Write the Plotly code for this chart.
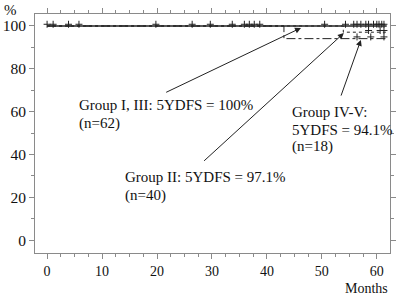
import plotly.graph_objects as go

# Step curves (months, DFS %)
g13_times = [0, 61.8]
g13_surv = [100, 100]
g2_times = [0, 53.9, 61.8]
g2_surv = [100, 97.1, 97.1]
g45_times = [0, 43.1, 61.8]
g45_surv = [100, 94.1, 94.1]

# Censor marks
cens100_x = [0, 1.1, 3.9, 5.8, 19.8, 26.4, 29.7, 33.7, 35.9, 36.8, 37.7, 38.7,
             50.5, 54.3, 55.8, 56.4, 57.1, 58.0, 58.5, 59.4, 60.0, 60.4, 60.9, 61.3]
cens971_x = [58.5, 60.6, 61.3]
cens941_x = [56.4, 58.9, 61.3]

x_ticks = [0, 10, 20, 30, 40, 50, 60]
y_ticks = [0, 20, 40, 60, 80, 100]

LINE = "#222222"
AX = "#8a8a8a"
FONT = "Times New Roman"

fig = go.Figure()
fig.add_trace(go.Scatter(x=g45_times, y=g45_surv, mode="lines", line_shape="hv",
                         line=dict(color=LINE, width=1, dash="dashdot")))
fig.add_trace(go.Scatter(x=g2_times, y=g2_surv, mode="lines", line_shape="hv",
                         line=dict(color=LINE, width=1, dash="dot")))
fig.add_trace(go.Scatter(x=g13_times, y=g13_surv, mode="lines", line_shape="hv",
                         line=dict(color=LINE, width=1.5)))
mk = dict(symbol="cross-thin", size=5, line=dict(color=LINE, width=1))
fig.add_trace(go.Scatter(x=cens100_x, y=[100.8] * len(cens100_x), mode="markers", marker=mk))
fig.add_trace(go.Scatter(x=cens971_x, y=[97.9] * len(cens971_x), mode="markers", marker=mk))
fig.add_trace(go.Scatter(x=cens941_x, y=[94.9] * len(cens941_x), mode="markers", marker=mk))

# Arrows
arrows = [(46.2, 99.1, 21.4, 68.7), (54.0, 96.7, 28.3, 36.4), (57.1, 93.5, 53.4, 66.8)]
for tx, ty, sx, sy in arrows:
    fig.add_annotation(x=tx, y=ty, ax=sx, ay=sy, xref="x", yref="y", axref="x", ayref="y",
                       showarrow=True, arrowhead=2, arrowsize=1.2, arrowwidth=1,
                       arrowcolor=LINE, text="")

labels = [
    (5.4, 63.1, "Group I, III: 5YDFS = 100%"),
    (5.4, 54.7, "(n=62)"),
    (13.8, 29.4, "Group II: 5YDFS = 97.1%"),
    (13.8, 21.0, "(n=40)"),
    (44.2, 59.8, "Group IV-V:"),
    (44.2, 51.4, "5YDFS = 94.1%"),
    (44.2, 43.5, "(n=18)"),
]
for x, y, t in labels:
    fig.add_annotation(x=x, y=y, xref="x", yref="y", text=t, showarrow=False,
                       xanchor="left", yanchor="middle", font=dict(size=15, color="#111"))

fig.add_annotation(x=-0.07, y=1.015, xref="paper", yref="paper", xanchor="center", yanchor="middle",
                   text="%", showarrow=False, font=dict(size=15, color="#111"))
fig.add_annotation(x=1.0, y=-0.15, xref="paper", yref="paper", xanchor="right", yanchor="middle",
                   text="Months", showarrow=False, font=dict(size=14, color="#111"))

axis_common = dict(showline=True, linecolor=AX, linewidth=1, mirror="ticks", ticks="outside",
                   tickcolor=AX, ticklen=5, showgrid=False, zeroline=False, automargin=False)
fig.update_xaxes(range=[-2.2, 62.4], tickvals=x_ticks, tickfont=dict(size=14, color="#111"),
                 minor=dict(dtick=2.5, tick0=0, ticklen=3, tickcolor=AX, ticks="outside", showgrid=False),
                 **axis_common)
fig.update_yaxes(range=[-6, 105.6], tickvals=y_ticks, tickfont=dict(size=15.5, color="#111"),
                 minor=dict(dtick=10, tick0=0, ticklen=3, tickcolor=AX, ticks="outside", showgrid=False),
                 **axis_common)

fig.update_layout(template="none", width=398, height=296, margin=dict(l=35, r=8, t=14, b=43),
                  showlegend=False, plot_bgcolor="white", paper_bgcolor="white",
                  font=dict(family=FONT, color="#111"))
fig.write_html("out.html", config={"displayModeBar": False},
               post_script="document.body.style.margin='0';document.body.style.overflow='hidden';")
